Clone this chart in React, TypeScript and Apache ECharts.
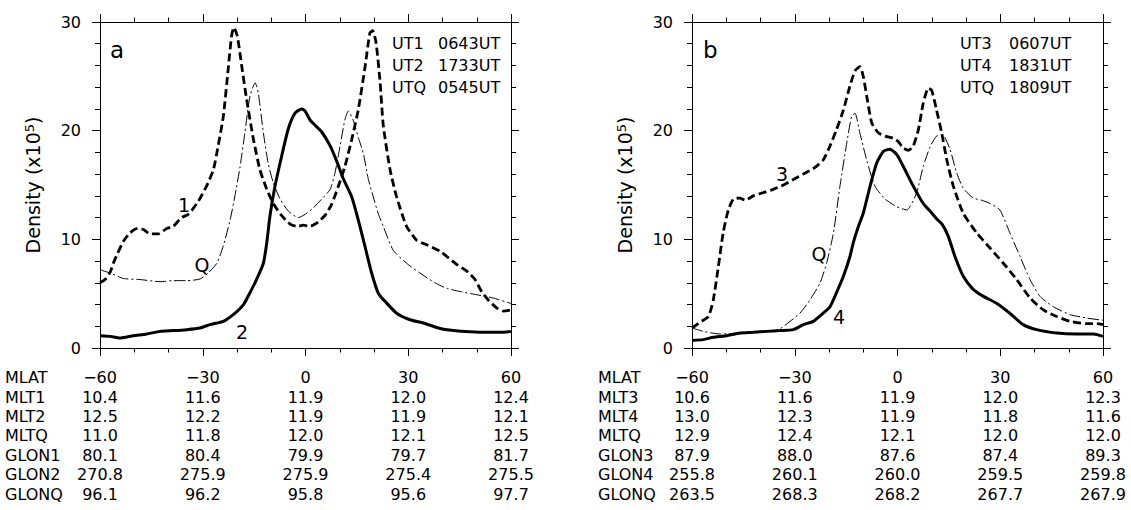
import React, { useEffect, useRef } from "react";
import * as echarts from "echarts";

// ---------- data ----------
const mlatTicks = [-60, -30, 0, 30, 60];

const rowNamesA = ["MLAT", "MLT1", "MLT2", "MLTQ", "GLON1", "GLON2", "GLONQ"];
const rowNamesB = ["MLAT", "MLT3", "MLT4", "MLTQ", "GLON3", "GLON4", "GLONQ"];

const mlt1 = [10.4, 11.6, 11.9, 12.0, 12.4];
const mlt2 = [12.5, 12.2, 11.9, 11.9, 12.1];
const mltQa = [11.0, 11.8, 12.0, 12.1, 12.5];
const glon1 = [80.1, 80.4, 79.9, 79.7, 81.7];
const glon2 = [270.8, 275.9, 275.9, 275.4, 275.5];
const glonQa = [96.1, 96.2, 95.8, 95.6, 97.7];

const mlt3 = [10.6, 11.6, 11.9, 12.0, 12.3];
const mlt4 = [13.0, 12.3, 11.9, 11.8, 11.6];
const mltQb = [12.9, 12.4, 12.1, 12.0, 12.0];
const glon3 = [87.9, 88.0, 87.6, 87.4, 89.3];
const glon4 = [255.8, 260.1, 260.0, 259.5, 259.8];
const glonQb = [263.5, 268.3, 268.2, 267.7, 267.9];

const utNamesA = ["UT1", "UT2", "UTQ"];
const utTimesA = ["0643UT", "1733UT", "0545UT"];
const utNamesB = ["UT3", "UT4", "UTQ"];
const utTimesB = ["0607UT", "1831UT", "1809UT"];

// Panel a, curve 1 (dashed) [MLAT, density]
const curveA1 = [
  [-60, 6.0], [-58.5, 6.3], [-57, 7.0], [-56, 7.9], [-55, 8.6], [-53.2, 9.8], [-51.2, 10.6],
  [-49, 11.0], [-47.3, 10.9], [-45.4, 10.5], [-43, 10.5], [-40.5, 11.0], [-38.6, 11.2],
  [-36.2, 12.0], [-34.2, 12.3], [-31.3, 13.5], [-28.9, 14.9], [-26.9, 16.4], [-25.5, 18.6],
  [-24.0, 21.3], [-22.5, 25.9], [-21.6, 28.7], [-20.9, 29.5], [-19.9, 28.7], [-18.6, 25.9],
  [-17.2, 22.9], [-15.2, 19.2], [-13.3, 16.4], [-11.3, 14.6], [-9.4, 13.3], [-7.0, 12.2],
  [-4.5, 11.4], [-2.6, 11.2], [-0.6, 11.3], [1.3, 11.2], [3.7, 11.6], [5.7, 12.2], [7.6, 13.2],
  [9.6, 14.9], [11.5, 16.7], [13.5, 19.2], [15.4, 21.9], [17.4, 25.9], [18.8, 29.0], [19.6, 29.2],
  [20.6, 28.1], [21.8, 24.4], [22.7, 20.5], [24.7, 16.4], [26.6, 13.9], [29.5, 11.2], [32.5, 9.9],
  [35.4, 9.5], [39.3, 8.9], [44.1, 7.7], [47.0, 7.1], [49.5, 6.3], [51.4, 5.2],
  [53.4, 4.4], [55.8, 3.7], [57.8, 3.4], [60, 3.5],
];
// Panel a, curve 2 (solid)
const curveA2 = [
  [-60, 1.13], [-57, 1.07], [-54.2, 0.92], [-50.3, 1.13], [-46.4, 1.29], [-42.5, 1.53],
  [-38.6, 1.6], [-34.7, 1.69], [-30.8, 1.84], [-27.9, 2.15], [-24.0, 2.45], [-21.1, 3.07],
  [-18.1, 4.0], [-16.2, 5.1], [-14.3, 6.3], [-12.3, 7.8], [-11.3, 9.7], [-10.4, 12.1],
  [-8.9, 14.9], [-7.0, 17.6], [-5.0, 20.2], [-3.1, 21.6], [-1.1, 22.0], [-0.1, 21.8],
  [1.3, 21.0], [2.8, 20.5], [4.7, 19.9], [7.2, 18.6], [9.1, 17.2], [11.0, 15.6], [13.5, 13.9],
  [15.4, 11.8], [17.4, 9.3], [19.3, 6.9], [21.3, 5.0], [23.2, 4.3], [26.6, 3.2], [30.5, 2.6],
  [34.4, 2.3], [39.3, 1.8], [43.2, 1.62], [48.0, 1.5], [52.9, 1.44],
  [56.8, 1.44], [60, 1.53],
];
// Panel a, quiet curve Q (dash-dot)
const curveAQ = [
  [-60, 7.2], [-57.1, 6.9], [-53.2, 6.4], [-48.3, 6.3], [-42.5, 6.1], [-38.6, 6.2], [-34.7, 6.2],
  [-30.8, 6.35], [-28.4, 6.9], [-25.9, 7.8], [-24.0, 9.4], [-22.0, 11.8], [-20.6, 14.0],
  [-19.1, 16.7], [-17.7, 19.8], [-16.2, 23.2], [-14.7, 24.4], [-13.8, 23.5], [-12.3, 19.8],
  [-10.9, 17.0], [-9.4, 15.2], [-7.4, 13.7], [-5.0, 12.6], [-2.1, 12.0], [-0.1, 12.3],
  [2.3, 12.9], [4.7, 13.7], [7.2, 14.6], [8.6, 16.1], [10.1, 18.6], [11.5, 21.0], [12.5, 21.8],
  [14.0, 20.9], [15.6, 19.2], [16.9, 17.9], [18.3, 15.6], [19.8, 13.9], [21.2, 12.4],
  [22.7, 11.2], [25.6, 9.0], [29.5, 7.8], [33.4, 6.9], [37.8, 6.0], [41.2, 5.5], [45.1, 5.2],
  [50.0, 4.9], [54.8, 4.6], [60, 4.1],
];
// Panel b, curve 3 (dashed)
const curveB3 = [
  [-60, 1.84], [-58.6, 2.15], [-57.2, 2.45], [-55.2, 2.9], [-53.8, 4.4], [-52.3, 7.5],
  [-50.9, 10.6], [-49.4, 12.7], [-47.9, 13.7], [-46.0, 13.8], [-44.5, 13.6], [-42.1, 14.0],
  [-39.2, 14.3], [-36.3, 14.6], [-33.3, 15.0], [-30.4, 15.5], [-27.5, 16.0], [-24.6, 16.5],
  [-21.7, 17.3], [-19.7, 18.6], [-17.8, 20.1], [-15.8, 21.9], [-13.9, 24.1], [-12.4, 25.5],
  [-11.0, 25.9], [-10.0, 25.0], [-9.0, 23.2], [-7.5, 20.7], [-5.6, 19.8], [-3.6, 19.5],
  [-1.2, 19.3], [0.2, 19.0], [1.7, 18.4], [3.2, 18.2], [4.6, 18.6], [6.1, 20.1], [7.5, 22.5],
  [9.0, 23.9], [10.0, 23.7], [11.4, 21.9], [12.9, 19.8], [14.4, 17.3], [16.3, 14.9],
  [19.2, 12.4], [23.1, 10.6], [27.0, 9.2], [30.9, 7.8], [34.8, 6.3], [38.7, 4.6], [42.6, 3.5],
  [46.5, 2.9], [50.4, 2.45], [55.2, 2.24], [58.2, 2.24], [60, 2.15],
];
// Panel b, curve 4 (solid)
const curveB4 = [
  [-60, 0.7], [-56.7, 0.77], [-53.8, 0.98], [-49.9, 1.13], [-46.0, 1.38], [-42.1, 1.44],
  [-38.2, 1.53], [-34.3, 1.6], [-30.4, 1.69], [-27.5, 2.15], [-24.6, 2.45], [-21.7, 3.2],
  [-19.7, 3.8], [-17.8, 5.1], [-15.8, 6.6], [-13.9, 8.4], [-12.9, 9.7], [-11.4, 11.2],
  [-10.0, 12.4], [-8.0, 14.9], [-6.1, 17.0], [-4.1, 18.1], [-2.2, 18.3], [-0.2, 17.8],
  [1.7, 16.7], [4.6, 14.9], [7.5, 13.3], [9.5, 12.6], [11.4, 11.9], [13.0, 11.4], [14.8, 10.3],
  [16.8, 8.4], [19.2, 6.6], [22.1, 5.4], [25.1, 4.75], [29.0, 4.1], [32.8, 3.2], [36.7, 2.15],
  [40.6, 1.69], [46.5, 1.38], [52.3, 1.29], [57.2, 1.29], [60, 1.07],
];
// Panel b, quiet curve Q (dash-dot)
const curveBQ = [
  [-60, 1.84], [-56.7, 1.53], [-51.8, 1.29], [-46.0, 1.38], [-40.1, 1.44], [-34.8, 1.69],
  [-31.4, 2.45], [-28.5, 3.2], [-25.5, 4.45], [-22.6, 6.0], [-20.7, 7.8], [-18.7, 10.6],
  [-16.8, 14.9], [-14.8, 18.9], [-13.4, 21.3], [-12.4, 21.6], [-11.0, 19.8], [-9.0, 17.3],
  [-6.6, 14.9], [-3.6, 13.7], [-0.2, 13.0], [2.7, 12.7], [5.6, 14.3], [7.5, 16.7], [9.5, 18.5],
  [11.4, 19.5], [13.2, 19.6], [15.3, 18.3], [17.3, 16.1], [19.2, 14.7], [22.1, 13.8],
  [24.6, 13.6], [27.0, 13.3], [29.9, 12.7], [32.8, 10.6], [35.8, 8.4], [38.7, 6.3],
  [41.6, 4.75], [45.5, 3.8], [50.4, 3.07], [55.2, 2.76], [60, 2.55],
];

// ---------- styling ----------
const FONT = "DejaVu Sans";
const BLACK = "#000";
const ROW_H = 19.4;
const TABLE_TOP = 377.7;

function fmtLat(v: number) {
  return v < 0 ? "\u2212" + Math.abs(v) : String(v);
}

function bottomAxis(grid: number, rows: number[][]) {
  return {
    gridIndex: grid,
    type: "value",
    min: -60,
    max: 60,
    interval: 30,
    position: "bottom",
    axisLine: { show: true, onZero: false, lineStyle: { color: BLACK, width: 1 } },
    axisTick: { show: true, inside: false, length: 8, lineStyle: { color: BLACK, width: 1 } },
    minorTick: { show: true, splitNumber: 3, length: 4.5, lineStyle: { color: BLACK, width: 1 } },
    splitLine: { show: false },
    minorSplitLine: { show: false },
    axisLabel: {
      show: true,
      margin: 20,
      color: BLACK,
      fontFamily: FONT,
      fontSize: 16,
      lineHeight: ROW_H,
      showMinLabel: true,
      showMaxLabel: true,
      hideOverlap: false,
      formatter: (v: number) => {
        const i = mlatTicks.indexOf(v);
        if (i < 0) return "";
        return [fmtLat(v), ...rows.map((r) => r[i].toFixed(1))].join("\n");
      },
    },
  };
}

function topAxis(grid: number) {
  return {
    gridIndex: grid,
    type: "value",
    min: -60,
    max: 60,
    interval: 30,
    position: "top",
    axisLine: { show: true, onZero: false, lineStyle: { color: BLACK, width: 1 } },
    axisTick: { show: true, inside: false, length: 8, lineStyle: { color: BLACK, width: 1 } },
    minorTick: { show: true, splitNumber: 3, length: 4.5, lineStyle: { color: BLACK, width: 1 } },
    splitLine: { show: false },
    axisLabel: { show: false },
  };
}

function leftAxis(grid: number) {
  return {
    gridIndex: grid,
    type: "value",
    min: 0,
    max: 30,
    interval: 10,
    position: "left",
    axisLine: { show: true, onZero: false, lineStyle: { color: BLACK, width: 1 } },
    axisTick: { show: true, inside: false, length: 8, lineStyle: { color: BLACK, width: 1 } },
    minorTick: { show: true, splitNumber: 5, length: 5, lineStyle: { color: BLACK, width: 1 } },
    splitLine: { show: false },
    axisLabel: { show: true, margin: 19, color: BLACK, fontFamily: FONT, fontSize: 16 },
    name: "{a|Density (x10}{s|5}{a|)}",
    nameLocation: "middle",
    nameRotate: 90,
    nameGap: 58,
    nameTextStyle: {
      color: BLACK,
      rich: {
        a: { fontFamily: FONT, fontSize: 19, color: BLACK },
        s: { fontFamily: FONT, fontSize: 13, color: BLACK, verticalAlign: "top" },
      },
    },
  };
}

function rightAxis(grid: number) {
  return {
    gridIndex: grid,
    type: "value",
    min: 0,
    max: 30,
    interval: 10,
    position: "right",
    axisLine: { show: true, onZero: false, lineStyle: { color: BLACK, width: 1 } },
    axisTick: { show: true, inside: false, length: 8, lineStyle: { color: BLACK, width: 1 } },
    minorTick: { show: true, splitNumber: 5, length: 5, lineStyle: { color: BLACK, width: 1 } },
    splitLine: { show: false },
    axisLabel: { show: false },
  };
}

const DASHED = { color: BLACK, width: 2.8, type: [8, 4] };
const SOLID = { color: BLACK, width: 3, type: "solid" };
const DASHDOT = { color: BLACK, width: 1, type: [11, 3, 2, 3] };

function line(grid: number, data: number[][], style: any, name: string) {
  return {
    type: "line",
    name,
    xAxisIndex: grid * 2,
    yAxisIndex: grid * 2,
    data,
    symbol: "none",
    showSymbol: false,
    smooth: 0.2,
    silent: true,
    lineStyle: style,
  };
}

function txt(text: string, x: number, y: number, size: number, align = "left") {
  return {
    type: "text",
    x,
    y,
    silent: true,
    style: {
      text,
      fill: BLACK,
      font: `${size}px '${FONT}'`,
      textAlign: align,
      textVerticalAlign: "middle",
    },
  };
}

export default function App() {
  const ref = useRef<HTMLDivElement>(null);

  useEffect(() => {
    if (!ref.current) return;
    const chart = echarts.init(ref.current, undefined, { renderer: "svg" });

    const graphics: any[] = [];
    rowNamesA.forEach((n, i) => graphics.push(txt(n, 5, TABLE_TOP + i * ROW_H, 16)));
    rowNamesB.forEach((n, i) => graphics.push(txt(n, 598, TABLE_TOP + i * ROW_H, 16)));
    utNamesA.forEach((n, i) => {
      graphics.push(txt(n, 392, 43.5 + i * 22, 16));
      graphics.push(txt(utTimesA[i], 438, 43.5 + i * 22, 16));
    });
    utNamesB.forEach((n, i) => {
      graphics.push(txt(n, 960, 43.5 + i * 22, 16));
      graphics.push(txt(utTimesB[i], 1009, 43.5 + i * 22, 16));
    });
    graphics.push(txt("a", 110, 49.5, 23));
    graphics.push(txt("b", 703, 49.5, 23));
    graphics.push(txt("1", 184, 204.5, 19, "center"));
    graphics.push(txt("Q", 202, 265, 19, "center"));
    graphics.push(txt("2", 242, 331.5, 19, "center"));
    graphics.push(txt("3", 782, 173.5, 19, "center"));
    graphics.push(txt("Q", 819, 254, 19, "center"));
    graphics.push(txt("4", 839, 316.5, 19, "center"));

    chart.setOption({
      animation: false,
      backgroundColor: "#fff",
      textStyle: { fontFamily: FONT },
      grid: [
        { left: 100, top: 22, width: 411, height: 326 },
        { left: 692, top: 22, width: 411, height: 326 },
      ],
      xAxis: [
        bottomAxis(0, [mlt1, mlt2, mltQa, glon1, glon2, glonQa]),
        topAxis(0),
        bottomAxis(1, [mlt3, mlt4, mltQb, glon3, glon4, glonQb]),
        topAxis(1),
      ],
      yAxis: [leftAxis(0), rightAxis(0), leftAxis(1), rightAxis(1)],
      series: [
        line(0, curveAQ, DASHDOT, "Q (a)"),
        line(0, curveA1, DASHED, "1"),
        line(0, curveA2, SOLID, "2"),
        line(1, curveBQ, DASHDOT, "Q (b)"),
        line(1, curveB3, DASHED, "3"),
        line(1, curveB4, SOLID, "4"),
      ],
      graphic: graphics,
    });

    return () => chart.dispose();
  }, []);

  return (
    <div
      ref={ref}
      style={{ position: "fixed", left: 0, top: 0, width: 1131, height: 510, background: "#fff" }}
    />
  );
}
